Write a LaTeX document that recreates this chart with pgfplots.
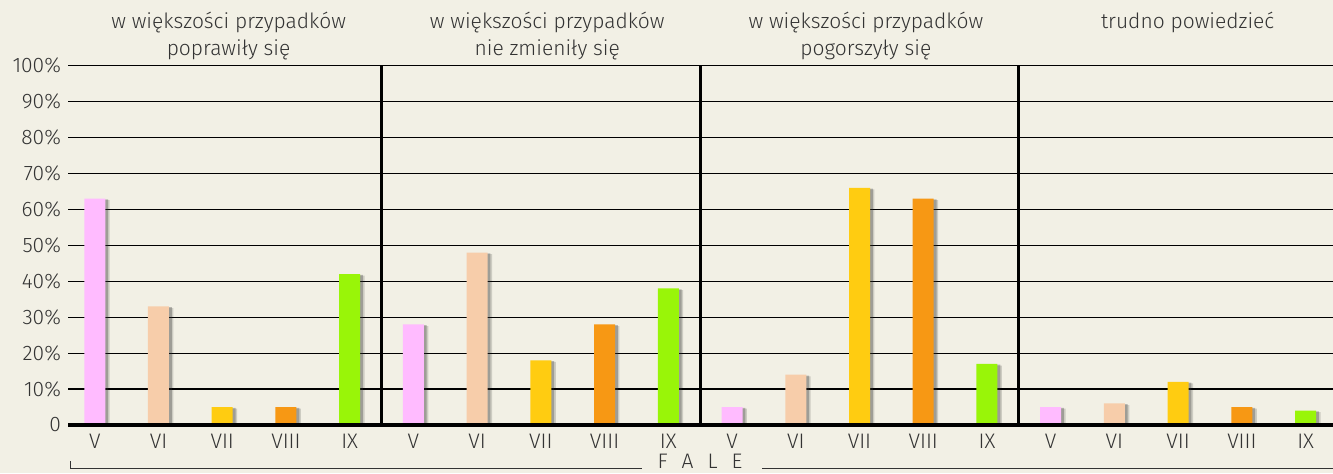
\documentclass[border=0pt]{standalone}
\usepackage{pgfplots}
\pgfplotsset{compat=1.18}
\usepackage{fontspec}
\setmainfont{Fira Sans Light}
\usetikzlibrary{shadows}
\definecolor{bg}{HTML}{F2F0E5}
\definecolor{txt}{HTML}{333333}
\definecolor{cV}{RGB}{255,187,255}
\definecolor{cVI}{RGB}{247,205,170}
\definecolor{cVII}{RGB}{255,204,17}
\definecolor{cVIII}{RGB}{247,152,20}
\definecolor{cIX}{RGB}{153,245,8}
\begin{document}
\begin{tikzpicture}[font=\fontsize{10.5}{12}\selectfont, text=txt]
\useasboundingbox (0,0) rectangle (666.5pt,236.5pt);
\fill[bg] (0,0) rectangle (666.5pt,236.5pt);
\clip (0,0) rectangle (666.5pt,236.5pt);
\begin{axis}[
  at={(34pt,24pt)}, anchor=south west,
  scale only axis, width=632.5pt, height=179.65pt,
  xmin=-0.42, xmax=19.43, ymin=0, ymax=100,
  ytick={0,10,...,100},
  yticklabels={0,10\%,20\%,30\%,40\%,50\%,60\%,70\%,80\%,90\%,100\%},
  xtick={0,...,19},
  xticklabels={V,VI,VII,VIII,IX,V,VI,VII,VIII,IX,V,VI,VII,VIII,IX,V,VI,VII,VIII,IX},
  /pgf/number format/assume math mode=true,
  axis line style={draw=none},
  major tick length=0pt,
  ymajorgrids, grid style={black, line width=0.6pt},
  ticklabel style={text=txt, font=\fontsize{10.5}{12}\selectfont},
  xticklabel style={yshift=-1pt},
  clip=false,
  every axis plot/.append style={ybar, bar width=10.5pt, bar shift=0pt, draw=none,
     drop shadow={shadow xshift=2.2pt, shadow yshift=-0.8pt, opacity=0.15, fill=black},
     drop shadow={shadow xshift=1.4pt, shadow yshift=-0.4pt, opacity=0.3, fill=black!80}},
]
\addplot[fill=cV]    coordinates {(0,63) (5,28) (10,5) (15,5)};
\addplot[fill=cVI]   coordinates {(1,33) (6,48) (11,14) (16,6)};
\addplot[fill=cVII]  coordinates {(2,5) (7,18) (12,66) (17,12)};
\addplot[fill=cVIII] coordinates {(3,5) (8,28) (13,63) (18,5)};
\addplot[fill=cIX]   coordinates {(4,42) (9,38) (14,17) (19,4)};
\draw[line width=1.6pt] (rel axis cs:0,0) -- (rel axis cs:1,0);
\draw[line width=1.5pt] (axis cs:4.5,0) -- (axis cs:4.5,100);
\draw[line width=1.5pt] (axis cs:9.5,0) -- (axis cs:9.5,100);
\draw[line width=1.5pt] (axis cs:14.5,0) -- (axis cs:14.5,100);
\node[anchor=base, yshift=18.85pt] at (axis cs:2.1,100) {w większości przypadków};
\node[anchor=base, yshift=5.35pt] at (axis cs:2.1,100) {poprawiły się};
\node[anchor=base, yshift=18.85pt] at (axis cs:7.1,100) {w większości przypadków};
\node[anchor=base, yshift=5.35pt] at (axis cs:7.1,100) {nie zmieniły się};
\node[anchor=base, yshift=18.85pt] at (axis cs:12.1,100) {w większości przypadków};
\node[anchor=base, yshift=5.35pt] at (axis cs:12.1,100) {pogorszyły się};
\node[anchor=base, yshift=18.85pt] at (axis cs:17.15,100) {trudno powiedzieć};
\end{axis}
\draw[line width=0.5pt, txt] (35pt,6pt) -- (35pt,2.5pt) -- (321pt,2.5pt);
\draw[line width=0.5pt, txt] (381pt,2.5pt) -- (666.5pt,2.5pt);
\node[anchor=base, inner sep=0pt] at (350pt,2.2pt) {F\hspace{7pt}A\hspace{7pt}L\hspace{7pt}E};
\end{tikzpicture}
\end{document}
